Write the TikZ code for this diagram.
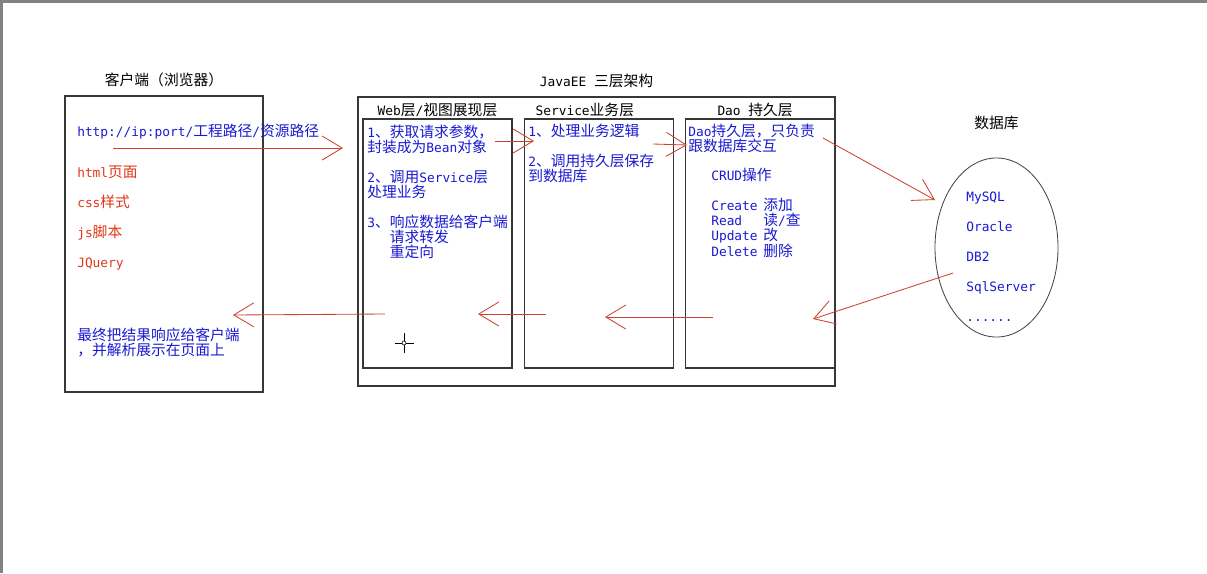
\documentclass[tikz,border=0pt]{standalone}
\usepackage{fontspec}
\setmainfont{Noto Sans CJK SC}
\newfontfamily\mono{DejaVu Sans Mono}[Scale=0.87]
\usepackage{tikz}
\usetikzlibrary{positioning, arrows.meta, shapes.geometric}
\definecolor{textBlue}{RGB}{25,25,210}
\definecolor{textRed}{RGB}{225,55,25}
\definecolor{arrowRed}{RGB}{205,65,45}
\definecolor{boxGray}{RGB}{55,55,55}
\definecolor{dbGray}{RGB}{70,70,70}
\definecolor{frameGray}{RGB}{130,130,130}
\newcommand{\lineGap}{0.375cm}
\newcommand{\crudLine}[2]{\makebox[1.3cm][l]{\mono #1}#2}
\tikzstyle{frameBox}=[draw=boxGray, line width=0.9pt, inner sep=0pt]
\tikzstyle{layer}=[frameBox, minimum width=3.725cm, minimum height=6.225cm]
\tikzstyle{boxTitle}=[inner sep=0pt, text=black]
\tikzstyle{blueText}=[inner sep=0pt, anchor=north west, align=left, text=textBlue]
\tikzstyle{redText}=[blueText, text=textRed]
\tikzstyle{flow}=[draw=arrowRed, line width=0.6pt, -{Straight Barb[length=0.5cm, width=0.6cm]}]
\begin{document}
\begin{tikzpicture}[x=0.025cm, y=-0.025cm, every node/.style={font=\fontsize{10.5}{10.67}\selectfont}]
  \useasboundingbox (0,0) rectangle (1207,573);
  \fill[frameGray] (0,0) rectangle (1207,3);
  \fill[frameGray] (0,0) rectangle (3,573);

  % client
  \node[frameBox, minimum width=4.95cm, minimum height=7.4cm] (client) at (164,244) {};
  \node[boxTitle, above=0.2cm of client] (clientTitle) {客户端（浏览器）};
  \node[blueText, anchor=west] (url) at (77,132) {{\mono http://ip:port/}工程路径{\mono /}资源路径};
  \node[redText] (pages) at (77,165.5) {{\mono html}页面\\[\lineGap]{\mono css}样式\\[\lineGap]{\mono js}脚本\\[\lineGap]{\mono JQuery}};
  \node[blueText] (show) at (77,327.5) {最终把结果响应给客户端\\，并解析展示在页面上};

  % JavaEE
  \node[frameBox, minimum width=11.925cm, minimum height=7.225cm] (javaee) at (596.5,241.5) {};
  \node[boxTitle, above=0.2cm of javaee] (javaeeTitle) {{\mono JavaEE }三层架构};
  \node[layer] (web) at (437.5,243.5) {};
  \node[layer, right=0.275cm of web] (service) {};
  \node[layer, right=0.275cm of service] (dao) {};
  \node[boxTitle, above=0.025cm of web] (webTitle) {{\mono Web}层{\mono /}视图展现层};
  \node[boxTitle, above=0.025cm of service, xshift=-0.35cm] (serviceTitle) {{\mono Service}业务层};
  \node[boxTitle, above=0.025cm of dao, xshift=-0.125cm] (daoTitle) {{\mono Dao }持久层};
  \node[blueText] (webText) at (367,124.5) {{\mono 1}、获取请求参数，\\封装成为{\mono Bean}对象\\[\lineGap]{\mono 2}、调用{\mono Service}层\\处理业务\\[\lineGap]{\mono 3}、响应数据给客户端\\\phantom{{\mono 3}、}请求转发\\\phantom{{\mono 3}、}重定向};
  \node[blueText] (serviceText) at (528,123.5) {{\mono 1}、处理业务逻辑\\[\lineGap]{\mono 2}、调用持久层保存\\到数据库};
  \node[blueText] (daoText) at (688,123.5) {{\mono Dao}持久层，只负责\\跟数据库交互};
  \node[blueText] (crud) at (711,167.5) {{\mono CRUD}操作\\[\lineGap]\crudLine{Create}{添加}\\\crudLine{Read}{读{\mono /}查}\\\crudLine{Update}{改}\\\crudLine{Delete}{删除}};

  % database
  \node[ellipse, draw=dbGray, line width=0.6pt, inner sep=0pt, minimum width=3.075cm, minimum height=4.475cm] (db) at (996.5,247.5) {};
  \node[boxTitle, above=0.7cm of db] (dbTitle) {数据库};
  \node[blueText, font=\fontsize{10.5}{10.67}\selectfont\mono] (dbList) at (966,192) {MySQL\\[\lineGap]Oracle\\[\lineGap]DB2\\[\lineGap]SqlServer\\[\lineGap]......};

  \coordinate (urlStart) at (113,148);
  \coordinate (webIn) at (343,148);
  \coordinate (webOut) at (495,141);
  \coordinate (serviceIn) at (534,141);
  \coordinate (serviceOut) at (653,144);
  \coordinate (daoIn) at (687,145);
  \coordinate (daoOut) at (823,138);
  \coordinate (dbIn) at (935,200);
  \coordinate (dbOut) at (953,273);
  \coordinate (daoBack) at (813,319);
  \coordinate (daoRet) at (713,317);
  \coordinate (serviceBack) at (605,317);
  \coordinate (serviceRet) at (546,314);
  \coordinate (webBack) at (478,314);
  \coordinate (webRet) at (385,314);
  \coordinate (clientBack) at (233,315);
  \draw[flow] (urlStart) -- (webIn);
  \draw[flow] (webOut) -- (serviceIn);
  \draw[flow] (serviceOut) -- (daoIn);
  \draw[flow] (daoOut) -- (dbIn);
  \draw[flow] (dbOut) -- (daoBack);
  \draw[flow] (daoRet) -- (serviceBack);
  \draw[flow] (serviceRet) -- (webBack);
  \draw[flow] (webRet) -- (clientBack);

  % cursor
  \coordinate (cursor) at (404,343);
  \draw[black, line width=0.5pt] ([xshift=-0.225cm]cursor) -- ([xshift=0.25cm]cursor)
    ([yshift=0.25cm]cursor) -- ([yshift=-0.25cm]cursor);
  \draw[black, fill=white, line width=0.4pt] (cursor) circle[radius=0.05cm];
\end{tikzpicture}
\end{document}
